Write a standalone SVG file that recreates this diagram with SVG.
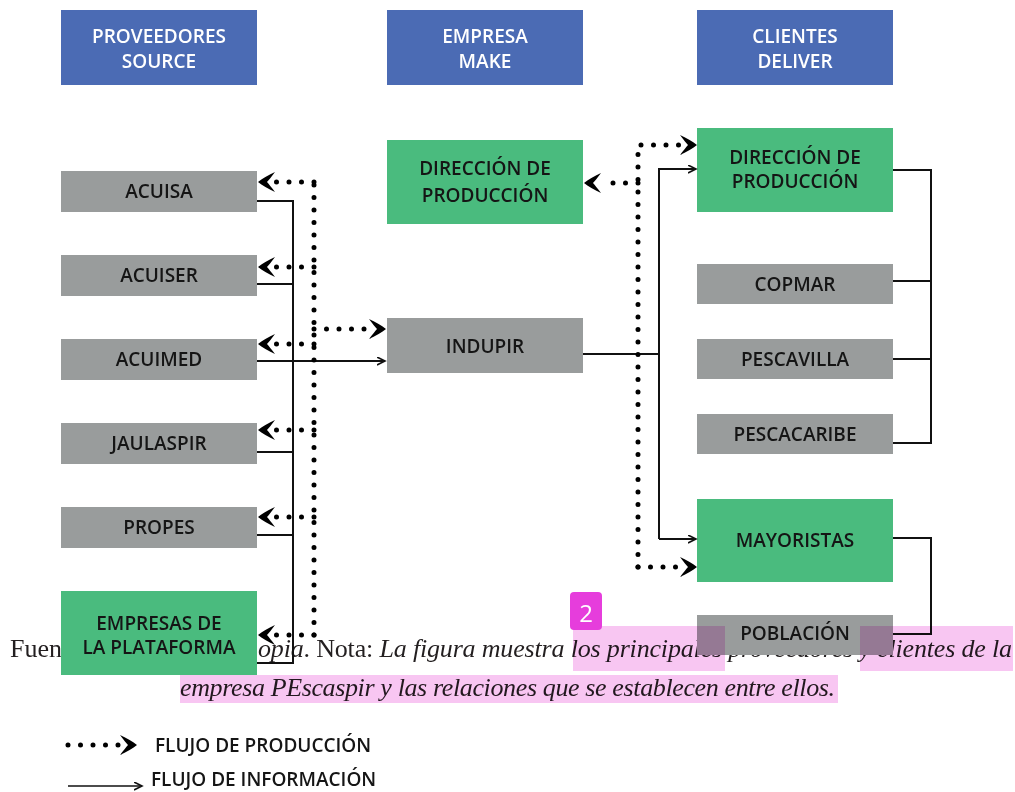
<svg xmlns="http://www.w3.org/2000/svg" width="1015" height="792" viewBox="0 0 1015 792">
<style>
.hdr{fill:#4b6bb4}
.grn{fill:#4abb7e}
.gry{fill:#999c9c}
.t{font-family:"Open Sans","Noto Sans",sans-serif;font-weight:600;font-size:19px;fill:#151515;text-anchor:middle;dominant-baseline:central}
.tw{font-family:"Open Sans","Noto Sans",sans-serif;font-weight:600;font-size:19px;fill:#ffffff;text-anchor:middle;dominant-baseline:central}
.sol{fill:none;stroke:#111;stroke-width:2}
.dot{fill:none;stroke:#000;stroke-width:5;stroke-linecap:round;stroke-dasharray:0 12.5}
.cap{font-family:"Liberation Serif","DejaVu Serif",serif;font-size:26px;fill:#231f20}
.it{font-style:italic}
.hl{fill:#f8c6f2;mix-blend-mode:multiply}
</style>
<defs>
<marker id="arr" markerUnits="userSpaceOnUse" markerWidth="10" markerHeight="10" refX="8" refY="4" orient="auto">
<path d="M0,0 L8,4 L0,8" fill="none" stroke="#111" stroke-width="1.6"/>
</marker>
<path id="chev" d="M0,0 C-4,-3 -10,-7 -17,-10 C-13,-5 -11,-2 -9,0 C-11,2 -13,5 -17,10 C-10,7 -4,3 0,0 Z" fill="#000"/>
</defs>

<g id="caption">
<text class="cap" x="10" y="657">Fuen</text>
<text class="cap" x="258" y="657" textLength="754" lengthAdjust="spacing"><tspan class="it">opia</tspan>. Nota: <tspan class="it">La figura muestra los principales proveedores y clientes de la</tspan></text>
<text class="cap it" x="180" y="696" textLength="655" lengthAdjust="spacing">empresa PEscaspir y las relaciones que se establecen entre ellos.</text>
</g>

<g id="hdr-source"><rect class="hdr" x="61" y="10" width="196" height="75"/><text class="tw" x="159" y="36">PROVEEDORES</text><text class="tw" x="159" y="61">SOURCE</text></g>
<g id="hdr-make"><rect class="hdr" x="387" y="10" width="196" height="75"/><text class="tw" x="485" y="36">EMPRESA</text><text class="tw" x="485" y="61">MAKE</text></g>
<g id="hdr-deliver"><rect class="hdr" x="697" y="10" width="196" height="75"/><text class="tw" x="795" y="36">CLIENTES</text><text class="tw" x="795" y="61">DELIVER</text></g>

<g id="acuisa"><rect class="gry" x="61" y="171" width="196" height="41"/><text class="t" x="159" y="191">ACUISA</text></g>
<g id="acuiser"><rect class="gry" x="61" y="255" width="196" height="41"/><text class="t" x="159" y="275">ACUISER</text></g>
<g id="acuimed"><rect class="gry" x="61" y="339" width="196" height="41"/><text class="t" x="159" y="359">ACUIMED</text></g>
<g id="jaulaspir"><rect class="gry" x="61" y="423" width="196" height="41"/><text class="t" x="159" y="443">JAULASPIR</text></g>
<g id="propes"><rect class="gry" x="61" y="507" width="196" height="41"/><text class="t" x="159" y="527">PROPES</text></g>
<g id="plataforma"><rect class="grn" x="61" y="591" width="196" height="84"/><text class="t" x="159" y="623">EMPRESAS DE</text><text class="t" x="159" y="647">LA PLATAFORMA</text></g>

<g id="direccion-make"><rect class="grn" x="387" y="140" width="196" height="84"/><text class="t" x="485" y="168">DIRECCIÓN DE</text><text class="t" x="485" y="195">PRODUCCIÓN</text></g>
<g id="indupir"><rect class="gry" x="387" y="318" width="196" height="55"/><text class="t" x="485" y="346">INDUPIR</text></g>

<g id="direccion-deliver"><rect class="grn" x="697" y="128" width="196" height="84"/><text class="t" x="795" y="157">DIRECCIÓN DE</text><text class="t" x="795" y="181">PRODUCCIÓN</text></g>
<g id="copmar"><rect class="gry" x="697" y="264" width="196" height="40"/><text class="t" x="795" y="284">COPMAR</text></g>
<g id="pescavilla"><rect class="gry" x="697" y="339" width="196" height="40"/><text class="t" x="795" y="359">PESCAVILLA</text></g>
<g id="pescacaribe"><rect class="gry" x="697" y="414" width="196" height="40"/><text class="t" x="795" y="434">PESCACARIBE</text></g>
<g id="mayoristas"><rect class="grn" x="697" y="499" width="196" height="83"/><text class="t" x="795" y="540">MAYORISTAS</text></g>
<g id="poblacion"><rect class="gry" x="697" y="615" width="196" height="40"/><text class="t" x="795" y="633">POBLACIÓN</text></g>

<g id="connectors">
<path class="sol" d="M257,201 H293 V663 H257"/>
<path class="sol" d="M257,284 H293 M257,452 H293 M257,535 H293"/>
<path class="sol" d="M257,361 H385" marker-end="url(#arr)"/>
<path class="sol" d="M583,354 H659"/>
<path class="sol" d="M659,539 V169 H696" marker-end="url(#arr)"/>
<path class="sol" d="M659,539 H696" marker-end="url(#arr)"/>
<path class="sol" d="M893,170 H931 V443 H893 M893,281 H931 M893,359 H931"/>
<path class="sol" d="M893,538 H931 V634 H893"/>
<path class="dot" d="M314,635 V182"/>
<path class="dot" d="M314,182 H276 M314,267 H276 M314,344 H276 M314,430 H276 M314,517 H276 M314,635 H276"/>
<path class="dot" d="M314,329 H370"/>
<path class="dot" d="M638,567 V145 H682"/>
<path class="dot" d="M638,183 H602"/>
<path class="dot" d="M638,567 H682"/>
<use href="#chev" transform="translate(258,182) scale(-1,1)"/>
<use href="#chev" transform="translate(258,267) scale(-1,1)"/>
<use href="#chev" transform="translate(258,344) scale(-1,1)"/>
<use href="#chev" transform="translate(258,430) scale(-1,1)"/>
<use href="#chev" transform="translate(258,517) scale(-1,1)"/>
<use href="#chev" transform="translate(258,635) scale(-1,1)"/>
<use href="#chev" transform="translate(386,329)"/>
<use href="#chev" transform="translate(584,183) scale(-1,1)"/>
<use href="#chev" transform="translate(697,145)"/>
<use href="#chev" transform="translate(697,567)"/>
</g>

<g id="legend">
<path class="dot" d="M68,745 H120"/>
<use href="#chev" transform="translate(137,745)"/>
<text class="t" x="155" y="745" style="text-anchor:start">FLUJO DE PRODUCCIÓN</text>
<path class="sol" style="stroke-width:1.6" d="M68,786 H142" marker-end="url(#arr)"/>
<text class="t" x="151" y="779" style="text-anchor:start">FLUJO DE INFORMACIÓN</text>
</g>

<g id="highlights">
<rect class="hl" x="573" y="626" width="152" height="45"/>
<rect class="hl" x="860" y="626" width="153" height="45"/>
<rect class="hl" x="180" y="675" width="658" height="28"/>
<rect x="570" y="592" width="32" height="38" rx="4" fill="#e63ddc"/>
<text x="586" y="612" style="font-family:'Open Sans','Noto Sans',sans-serif;font-size:24px;fill:#fff;text-anchor:middle;dominant-baseline:central">2</text>
</g>
</svg>
